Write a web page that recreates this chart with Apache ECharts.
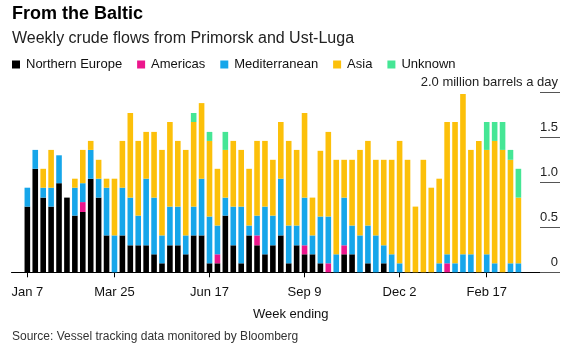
<!DOCTYPE html>
<html>
<head>
<meta charset="utf-8">
<script src="https://cdn.jsdelivr.net/npm/echarts@6/dist/echarts.min.js"></script>
<style>
html,body{margin:0;padding:0;background:#fff;}
#chart{width:568px;height:345px;}
</style>
</head>
<body>
<div id="chart"></div>
<script>
// Week-ending dates (2017-01-07 .. 2018-03-17)
const weeks = ['Jan 7','Jan 14','Jan 21','Jan 28','Feb 4','Feb 11','Feb 18','Feb 25','Mar 4','Mar 11','Mar 18','Mar 25',
  'Apr 1','Apr 8','Apr 15','Apr 22','Apr 29','May 6','May 13','May 20','May 27','Jun 3','Jun 10','Jun 17',
  'Jun 24','Jul 1','Jul 8','Jul 15','Jul 22','Jul 29','Aug 5','Aug 12','Aug 19','Aug 26','Sep 2','Sep 9',
  'Sep 16','Sep 23','Sep 30','Oct 7','Oct 14','Oct 21','Oct 28','Nov 4','Nov 11','Nov 18','Nov 25','Dec 2',
  'Dec 9','Dec 16','Dec 23','Dec 30','Jan 6','Jan 13','Jan 20','Jan 27','Feb 3','Feb 10','Feb 17',
  'Feb 24','Mar 3','Mar 10','Mar 17'];
const tickLabels = ['Jan 7','Mar 25','Jun 17','Sep 9','Dec 2','Feb 17'];

const northernEurope = [0.73,1.15,0.83,0.73,0.99,0.83,0.63,0.67,1.04,0.83,0.41,0,0.41,0.30,0.30,0.30,0.20,0.10,0.30,0.30,
  0.20,0.41,0.41,0.10,0.10,0.63,0.30,0.10,0.41,0.30,0.20,0.30,0.41,0.10,0.30,0.20,0.20,0.10,0,0,
  0.20,0.20,0,0.10,0,0.10,0,0,0,0,0,0,0,0,0,0,0,0,0,0,0,0,0];
const americas = [0,0,0,0,0,0,0,0.11,0,0,0,0,0,0,0,0,0,0,0,0,
  0,0,0,0,0.10,0,0,0,0,0.11,0,0,0,0,0,0.10,0,0,0.10,0,
  0.10,0,0,0,0,0,0,0,0,0,0,0,0,0.10,0,0,0,0,0,0,0,0,0];
const mediterranean = [0.21,0.21,0.11,0.21,0.31,0,0.31,0.21,0.32,0.21,0.53,0.41,0.53,0.53,0.33,0.74,0.63,0.31,0.43,0.43,
  0.21,0.32,0.63,0.52,0.32,0.20,0.43,0.63,0.11,0.22,0.53,0.33,0.63,0.42,0.22,0.53,0.21,0.52,0.52,0.20,
  0.53,0.32,0.41,0.42,0.41,0.20,0.20,0.10,0,0,0,0,0.10,0.10,0.10,0.20,0.20,0,0.20,0.10,0,0.10,0.10];
const asia = [0,0,0.21,0.42,0,0,0.10,0.37,0.10,0.21,0.10,0.63,0.52,0.94,0.83,0.52,0.73,0.95,0.94,0.73,
  0.95,0.94,0.84,0.84,0.63,0.53,0.73,0.63,0.63,0.83,0.73,0.62,0.63,0.94,0.84,0.94,0.42,0.73,0.94,1.05,
  0.42,0.73,0.95,0.94,0.84,0.95,1.05,1.36,1.25,0.73,1.25,0.94,0.94,1.47,1.57,1.78,1.16,1.46,1.16,1.36,1.36,1.15,0.73];
const unknown = [0,0,0,0,0,0,0,0,0,0,0,0,0,0,0,0,0,0,0,0,
  0,0.10,0,0.10,0,0.20,0,0,0,0,0,0,0,0,0,0,0,0,0,0,
  0,0,0,0,0,0,0,0,0,0,0,0,0,0,0,0,0,0,0.31,0.21,0.31,0.11,0.32];

const seriesNames = ['Northern Europe','Americas','Mediterranean','Asia','Unknown'];
const seriesColors = ['#000000','#ec168c','#16a6ea','#fcc00a','#45e695'];
const seriesValues = [northernEurope, americas, mediterranean, asia, unknown];

const PAD_L = 2, PAD_R = 5;
const padL = Array.from({length: PAD_L}, (_, i) => '_l' + i);
const padR = Array.from({length: PAD_R}, (_, i) => '_r' + i);
const xData = padL.concat(weeks, padR);
const showAt = (idx, val) => tickLabels.indexOf(val) >= 0;

const chart = echarts.init(document.getElementById('chart'), null, {renderer: 'canvas'});
const option = {
  animation: false,
  textStyle: {fontFamily: 'Liberation Sans, Arial, sans-serif'},
  title: [
    {text: 'From the Baltic', left: 12, top: 5, padding: 0,
     textStyle: {fontSize: 18, fontWeight: 'bold', color: '#000'}},
    {text: 'Weekly crude flows from Primorsk and Ust-Luga', left: 12, top: 31, padding: 0,
     textStyle: {fontSize: 16, fontWeight: 'normal', color: '#222'}},
    {text: 'Source: Vessel tracking data monitored by Bloomberg', left: 12, top: 331, padding: 0,
     textStyle: {fontSize: 12, fontWeight: 'normal', color: '#333'}}
  ],
  legend: {
    left: 12, top: 58, padding: 0,
    icon: 'rect', itemWidth: 8, itemHeight: 8, itemGap: 15,
    selectedMode: false,
    textStyle: {fontSize: 13, color: '#111', padding: [0, 0, 0, 1]},
    data: seriesNames
  },
  grid: {left: 11.5, right: 10, top: 92.3, bottom: 72.7},
  xAxis: {
    type: 'category', data: xData, boundaryGap: false,
    axisLine: {lineStyle: {color: '#000', width: 1}},
    axisTick: {interval: showAt, length: 5, lineStyle: {color: '#000'}},
    axisLabel: {interval: showAt, fontSize: 13, color: '#111', margin: 14},
    splitLine: {show: false},
    name: 'Week ending', nameLocation: 'middle', nameGap: 36,
    nameTextStyle: {fontSize: 13, color: '#111', padding: [0, 0, 0, 12]}
  },
  yAxis: {
    type: 'value', position: 'right', offset: 2,
    min: 0, max: 2, interval: 0.5,
    axisLine: {show: false},
    splitLine: {show: false},
    axisTick: {show: true, inside: true, length: 20, lineStyle: {color: '#555', width: 1}},
    axisLabel: {
      inside: true, margin: 2, fontSize: 13, color: '#222',
      verticalAlign: 'bottom', padding: [0, 0, 3, 0],
      formatter: v => v === 2 ? '2.0 million barrels a day' : (v === 0 ? '0' : v.toFixed(1))
    }
  },
  series: seriesNames.map((name, k) => ({
    name: name, type: 'bar', stack: 'total', barWidth: 5.6,
    itemStyle: {color: seriesColors[k]},
    emphasis: {disabled: true},
    data: padL.map(() => null).concat(seriesValues[k], padR.map(() => null))
  }))
};
chart.setOption(option);
</script>
</body>
</html>
